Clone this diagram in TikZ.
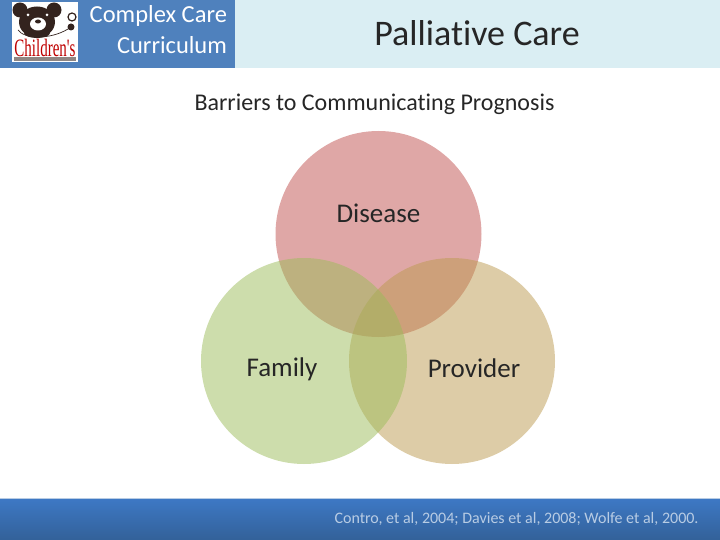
\documentclass[tikz,border=0pt]{standalone}
\usepackage{fontspec}
\setmainfont{Carlito}[Ligatures=CommonOff]
\newfontfamily\logofont{Liberation Serif}
\usetikzlibrary{positioning}
\definecolor{headblue}{HTML}{4F81BD}
\definecolor{headlight}{HTML}{DAEEF3}
\definecolor{footlight}{HTML}{B8CCE4}
\definecolor{foottop}{HTML}{3D78C4}
\definecolor{footbottom}{HTML}{336199}
\definecolor{redset}{HTML}{C0504D}
\definecolor{greenset}{HTML}{9BBB59}
\definecolor{tanset}{HTML}{BC9A50}
\definecolor{bearbrown}{HTML}{33231E}
\tikzset{
  setcircle/.style={circle, minimum size=206pt, inner sep=0pt, fill opacity=0.5},
  setlabel/.style={text=black!85, font=\fontsize{27}{27}\selectfont},
  headtext/.style={text=white, font=\fontsize{24.5}{24.5}\selectfont, anchor=east}
}

\begin{document}
\begin{tikzpicture}[x=1pt, y=-1pt]
  \useasboundingbox (0,0) rectangle (720,540);

  % header and footer
  \fill[headlight] (235,0) rectangle (720,68);
  \fill[headblue] (0,0) rectangle (235,68);
  \fill[footlight] (0,497.5) rectangle (720,499);
  \shade[top color=foottop, bottom color=footbottom] (0,499) rectangle (720,540);

  % logo
  \fill[white] (12,2) rectangle (78,62);
  \fill[bearbrown] (20,10) circle (7.5);
  \fill[bearbrown] (54,10) circle (7.5);
  \fill[bearbrown] (37,22) ellipse (18 and 15.5);
  \fill[bearbrown] (37,33) ellipse (13 and 5);
  \fill[white] (38,24) ellipse (8 and 6.5);
  \fill[bearbrown] (38,21.5) ellipse (3 and 2);
  \fill[white] (28,15) circle (1.5);
  \fill[white] (47,15) circle (1.5);
  \draw[bearbrown, line width=1.2pt] (72,17) circle (4);
  \fill[bearbrown] (71,27) circle (3.5);
  \draw[bearbrown, line width=.7pt] (18,30) .. controls (24,39) and (50,40) .. (68,29);
  \fill[bearbrown!55] (14,57.5) rectangle (76,61);
  \node[inner sep=0pt, text=red!75!black, font=\logofont\fontsize{25}{25}\selectfont, xscale=0.6] (childrens) at (45,47.5) {Children's};

  \node[headtext] (complex) at (230.5,16) {Complex Care};
  \node[headtext] (curriculum) at (230.5,45) {Curriculum};
  \node[text=black!85, font=\fontsize{36}{36}\selectfont] (title) at (477,33.5) {Palliative Care};
  \node[text=black!85, font=\fontsize{24}{24}\selectfont] (subtitle) at (374.5,104) {Barriers to Communicating Prognosis};

  % three circles
  \node[setcircle, fill=redset] (disease) at (378.5,234) {};
  \node[setcircle, fill=tanset] (provider) at (452,361) {};
  \node[setcircle, fill=greenset] (family) at (304,361) {};

  \node[setlabel] (diseaselabel) at (378.5,213) {Disease};
  \node[setlabel] (familylabel) at (282,369) {Family};
  \node[setlabel] (providerlabel) at (474,368.5) {Provider};

  \node[text=footlight, font=\fontsize{16}{16}\selectfont, anchor=east] (source) at (702,518.5) {Contro, et al, 2004; Davies et al, 2008; Wolfe et al, 2000.};
\end{tikzpicture}
\end{document}
